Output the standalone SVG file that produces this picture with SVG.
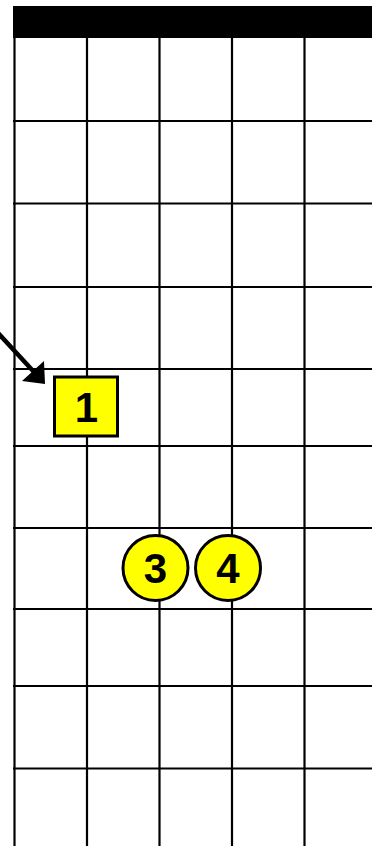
<svg xmlns="http://www.w3.org/2000/svg" width="372" height="846" viewBox="0 0 372 846">
<style>
.g{stroke:#000;stroke-width:2.2;fill:none}
.m{fill:#ffff00;stroke:#000;stroke-width:3}
.t{font-family:"Liberation Sans",Arial,sans-serif;font-weight:bold;font-size:42px;text-anchor:middle;fill:#000}
</style>
<rect width="372" height="846" fill="#fff"/>
<g id="grid">
<rect x="13" y="6" width="359" height="32" fill="#000"/>
<g class="g">
<line x1="14.5" y1="38" x2="14.5" y2="846"/>
<line x1="87" y1="38" x2="87" y2="846"/>
<line x1="159.5" y1="38" x2="159.5" y2="846"/>
<line x1="232" y1="38" x2="232" y2="846"/>
<line x1="304.5" y1="38" x2="304.5" y2="846"/>
<line x1="13" y1="121" x2="372" y2="121"/>
<line x1="13" y1="203.5" x2="372" y2="203.5"/>
<line x1="13" y1="287" x2="372" y2="287"/>
<line x1="13" y1="369" x2="372" y2="369"/>
<line x1="13" y1="446" x2="372" y2="446"/>
<line x1="13" y1="528" x2="372" y2="528"/>
<line x1="13" y1="609" x2="372" y2="609"/>
<line x1="13" y1="686" x2="372" y2="686"/>
<line x1="13" y1="768.5" x2="372" y2="768.5"/>
</g>
</g>
<g id="connectors">
<line x1="-2" y1="333" x2="34" y2="372" stroke="#000" stroke-width="4.5"/>
<polygon points="45,384 22,381 44,361" fill="#000"/>
</g>
<g id="finger1">
<rect class="m" x="54.5" y="377" width="63" height="59"/>
<text class="t" x="86.5" y="422">1</text>
</g>
<g id="finger3">
<circle class="m" cx="155.5" cy="568" r="32.5"/>
<text class="t" x="155.5" y="583">3</text>
</g>
<g id="finger4">
<circle class="m" cx="228" cy="568" r="32.5"/>
<text class="t" x="228" y="583">4</text>
</g>
</svg>
